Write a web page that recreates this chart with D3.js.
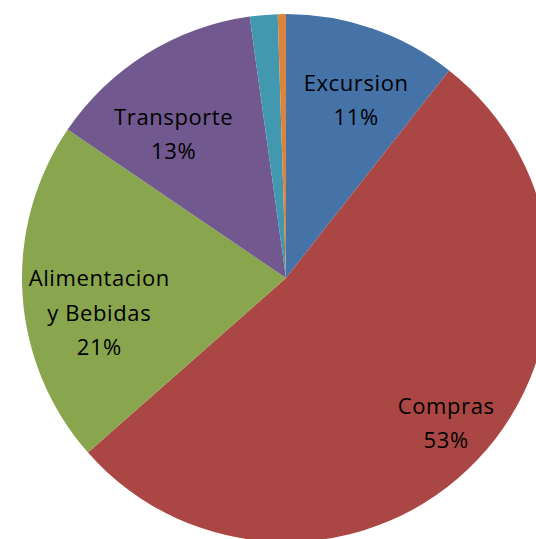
<!DOCTYPE html>
<html>
<head>
<meta charset="utf-8">
<script src="https://cdn.jsdelivr.net/npm/d3@7"></script>
<style>
  body { margin: 0; background: #fff; }
  svg { display: block; }
</style>
</head>
<body>
<div class="chart"></div>
<script>
// slices, clockwise from 12 o'clock
const categories = ["Excursion", "Compras", "Alimentacion y Bebidas", "Transporte", "Otros", "Varios"];
const values = [10.6, 52.9, 21.0, 13.3, 1.7, 0.5];
const labels = [["Excursion", "11%"], ["Compras", "53%"], ["Alimentacion", "y Bebidas", "21%"], ["Transporte", "13%"], [], []];
const colors = ["#4572A7", "#AA4643", "#89A54E", "#71588F", "#4198AF", "#DB843D"];

const width = 536, height = 539;
const cx = 286, cy = 278, radius = 264;

// label nudges from the arc centroid (excel "best fit" placement)
const nudge = {
    "Excursion": [8, 2],
    "Compras": [22, 15],
    "Alimentacion y Bebidas": [3, 23],
    "Transporte": [-12, 18]
};

const svg = d3.select(".chart")
    .append("svg")
    .attr("width", width)
    .attr("height", height);

const g = svg.append("g")
    .attr("transform", `translate(${cx}, ${cy})`);

const data = categories.map((c, i) => ({ name: c, value: values[i], label: labels[i], color: colors[i] }));

const pie = d3.pie()
    .value(d => d.value)
    .sort(null);

const arc = d3.arc()
    .innerRadius(0)
    .outerRadius(radius);

const labelArc = d3.arc()
    .innerRadius(radius * 0.72)
    .outerRadius(radius * 0.72);

const arcs = pie(data);

g.selectAll("path")
    .data(arcs)
    .join("path")
    .attr("d", arc)
    .attr("fill", d => d.data.color)
    .attr("stroke", "none");

const lineH = 34.5;
const lbl = g.selectAll("text")
    .data(arcs.filter(d => d.data.label.length))
    .join("text")
    .attr("transform", d => {
        const [x, y] = labelArc.centroid(d);
        const [nx, ny] = nudge[d.data.name] || [0, 0];
        return `translate(${x + nx}, ${y + ny})`;
    })
    .attr("text-anchor", "middle")
    .attr("font-family", "'Open Sans', sans-serif")
    .attr("font-size", 22)
    .attr("letter-spacing", 0.6)
    .attr("fill", "#000");

lbl.selectAll("tspan")
    .data(d => d.data.label.map((t, i, a) => ({ t, i, n: a.length })))
    .join("tspan")
    .attr("x", 0)
    .attr("y", d => (d.i - (d.n - 1) / 2) * lineH)
    .attr("dy", "0.35em")
    .text(d => d.t);
</script>
</body>
</html>
